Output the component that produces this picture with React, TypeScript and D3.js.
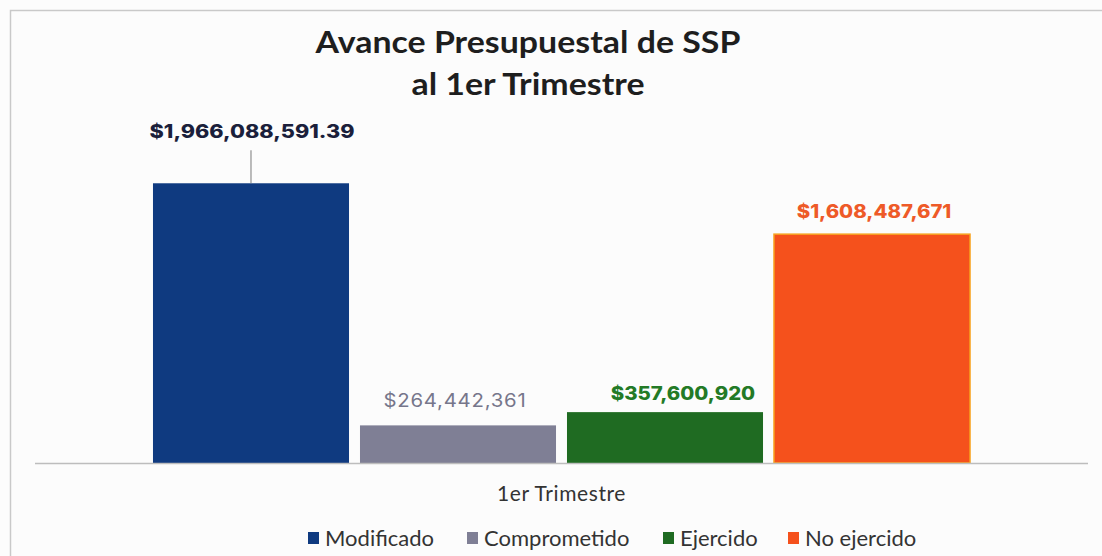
import * as d3 from 'd3'

const categories = ['1er Trimestre']
const series = ['Modificado', 'Comprometido', 'Ejercido', 'No ejercido']
const values = [1966088591.39, 264442361, 357600920, 1608487671]
const labels = ['$1,966,088,591.39', '$264,442,361', '$357,600,920', '$1,608,487,671']
const colors = ['#0f3a80', '#7f7f95', '#1f6b22', '#f5511c']
const labelColors = ['#1b1f3b', '#76768b', '#237a26', '#ee5a28']
const labelWeights = [800, 400, 800, 800]

const W = 1102
const H = 556
const BASE = 463

// label nudges (dx, dy above bar top), as placed in the original
const labelDx = [1, -3, 18, 2]
const labelDy = [45, 18, 12, 16]
const legendX = [308, 467, 663, 788]

export default function App() {
  const x0 = d3.scaleBand().domain(categories).range([35, 1088]).paddingOuter(0.1444).paddingInner(0)
  const x1 = d3.scaleBand().domain(series).range([0, x0.bandwidth()]).paddingInner(0.053).paddingOuter(0)
  const y = d3.scaleLinear().domain([0, 2200000000]).range([BASE, 150])

  const cat = categories[0]
  const cx = x0(cat) ?? 0
  const mid = (s: string) => cx + (x1(s) ?? 0) + x1.bandwidth() / 2

  return (
    <svg width={W} height={H} style={{ position: 'fixed', left: 0, top: 0, display: 'block', background: '#fcfcfc' }}>
      <rect x={0} y={0} width={W} height={H} fill="#fcfcfc" />
      {/* chart frame */}
      <path d={`M10.5,${H} V10.5 H${W}`} fill="none" stroke="#c9c9c9" strokeWidth={1.5} />

      {/* title */}
      <g fontFamily="Lato, 'Open Sans', sans-serif" fontWeight={700} fill="#1e1e1e" textAnchor="middle" fontSize={30}>
        <text transform="translate(528,53) scale(1.13,1)">Avance Presupuestal de SSP</text>
        <text transform="translate(528,95) scale(1.13,1)">al 1er Trimestre</text>
      </g>

      {/* bars */}
      {series.map((s, i) => {
        const bx = cx + (x1(s) ?? 0)
        const by = y(values[i])
        return (
          <rect key={s} x={bx} y={by} width={x1.bandwidth()} height={BASE - by}
            fill={colors[i]} stroke={i === 3 ? '#f7a21f' : 'none'} strokeWidth={i === 3 ? 1.5 : 0} />
        )
      })}

      {/* axis */}
      <line x1={35} x2={1088} y1={BASE + 0.5} y2={BASE + 0.5} stroke="#bdbdbd" strokeWidth={1.5} />

      {/* data labels */}
      <g fontFamily="Inter, 'Open Sans', sans-serif" fontSize={18.5} textAnchor="middle">
        {series.map((s, i) => {
          const lx = mid(s) + labelDx[i]
          const ly = y(values[i]) - labelDy[i]
          return (
            <text key={s} transform={`translate(${lx},${ly}) scale(${i === 0 ? 1.17 : 1.1},1)`}
              fill={labelColors[i]} fontWeight={labelWeights[i]}
              letterSpacing={i === 1 ? 0.7 : 0}>{labels[i]}</text>
          )
        })}
        {/* leader line for first label */}
        <line x1={mid(series[0])} x2={mid(series[0])}
          y1={y(values[0]) - 33} y2={y(values[0])} stroke="#7a7a7a" strokeWidth={1} />
      </g>

      {/* category label */}
      <text x={cx + x0.bandwidth() / 2} y={501} textAnchor="middle" fontFamily="Lato, 'Open Sans', sans-serif"
        fontSize={21} letterSpacing={0.6} fill="#333">{cat}</text>

      {/* legend */}
      <g fontFamily="Lato, 'Open Sans', sans-serif" fontSize={22} fill="#333">
        {series.map((s, i) => (
          <g key={s} transform={`translate(${legendX[i]},546)`}>
            <rect x={0} y={-14} width={11} height={12} fill={colors[i]} />
            <text x={17} y={0}>{s}</text>
          </g>
        ))}
      </g>
    </svg>
  )
}
